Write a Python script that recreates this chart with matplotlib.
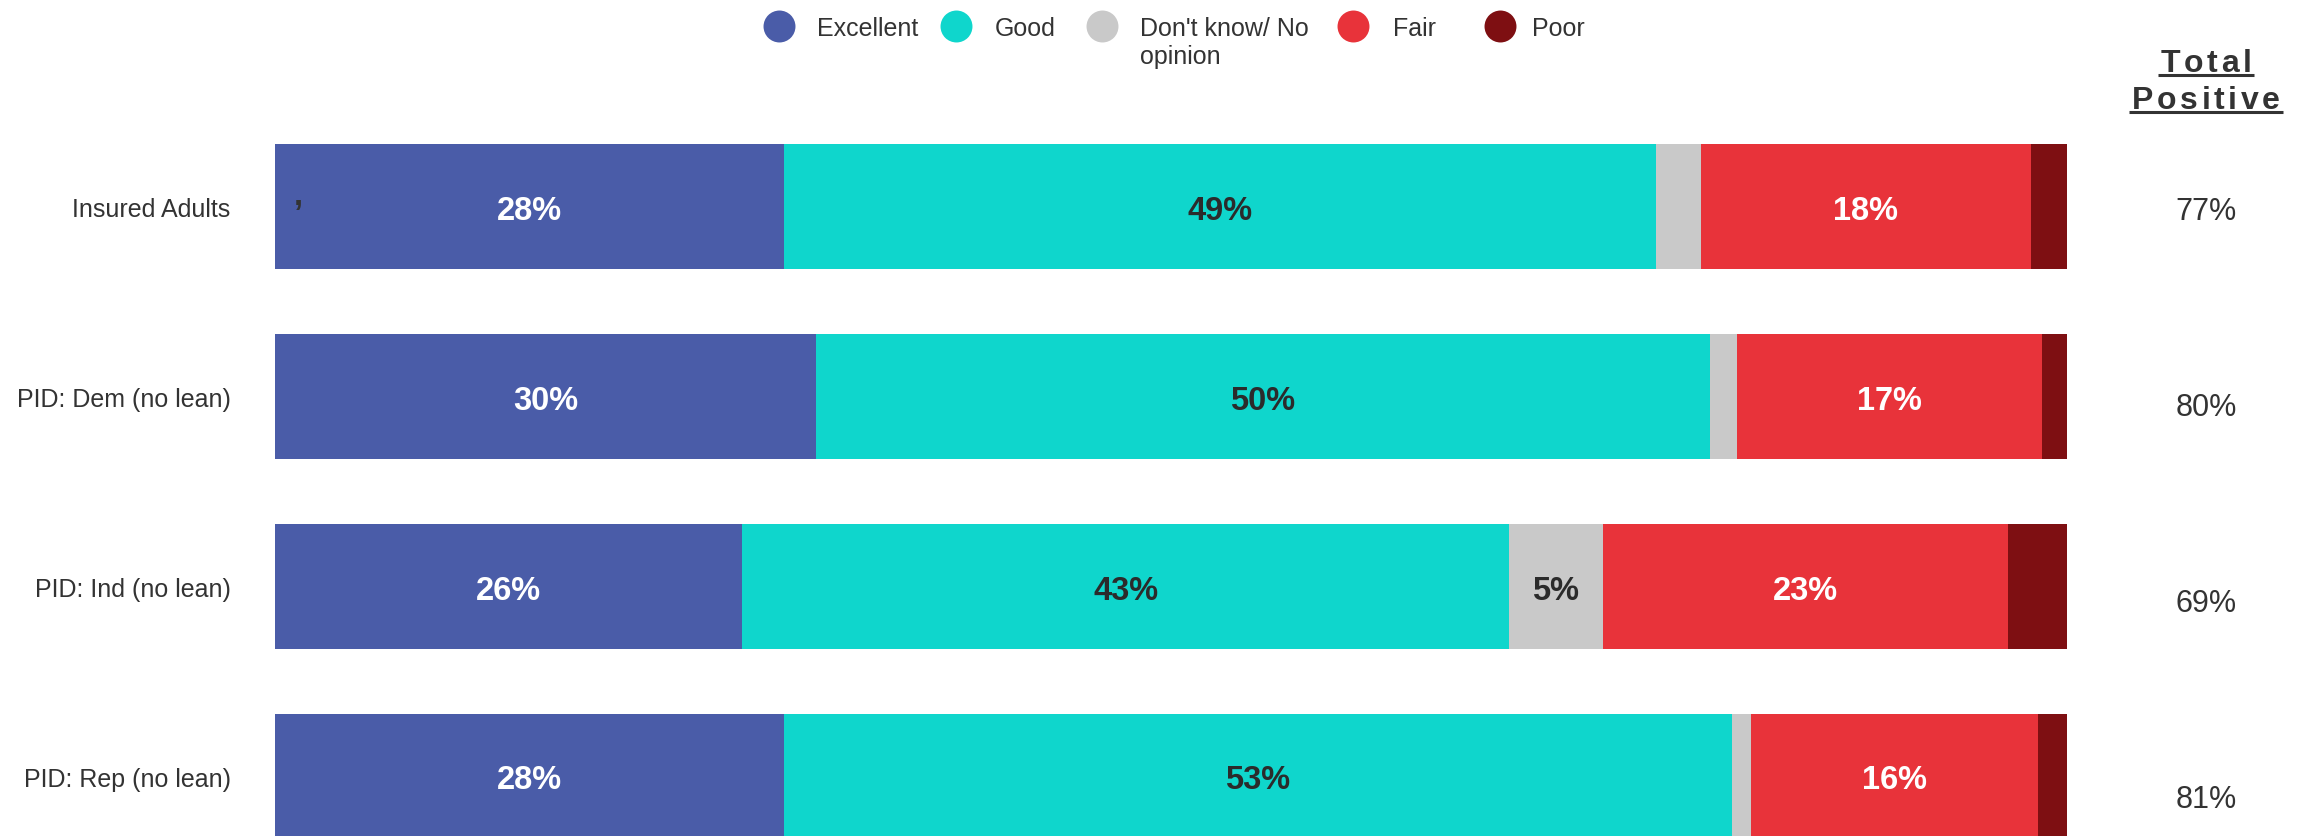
import matplotlib
matplotlib.use('Agg')
import matplotlib.pyplot as plt
import numpy as np

plt.rcParams['font.family'] = ['Liberation Sans', 'DejaVu Sans']

# data (percent of respondents)
groups = ['Insured Adults', 'PID: Dem (no lean)', 'PID: Ind (no lean)', 'PID: Rep (no lean)']
categories = ['Excellent', 'Good', "Don't know/ No\nopinion", 'Fair', 'Poor']
excellent = [28.4, 30.2, 26.1, 28.4]
good = [48.7, 49.9, 42.8, 52.9]
dont_know = [2.5, 1.5, 5.2, 1.1]
fair = [18.4, 17.0, 22.6, 16.0]
poor = [2.0, 1.4, 3.3, 1.6]
total_positive = [77, 80, 69, 81]

series = [excellent, good, dont_know, fair, poor]
colors = ['#4a5ca8', '#0fd6cc', '#c9c9c9', '#e8333a', '#7e0f12']
label_colors = ['white', '#2b2b2b', '#2b2b2b', 'white', 'white']
dark = '#333333'

W, H = 2303, 837
fig = plt.figure(figsize=(W / 100, H / 100), dpi=100)

# main stacked bars
ax = fig.add_axes([274.7 / W, 0, 1792 / W, 1])
ax.patch.set_visible(False)
y = np.arange(len(groups))
left = np.zeros(len(groups))
for vals, col, lc in zip(series, colors, label_colors):
    vals = np.array(vals)
    ax.barh(y, vals, left=left, height=0.658, color=col, linewidth=0)
    for yi, l, v in zip(y, left, vals):
        if v >= 4.5:
            ax.text(l + v / 2, yi, f'{round(v)}%', ha='center', va='center_baseline',
                    fontsize=23.5, fontweight='bold', color=lc)
    left += vals

# stray mark present in the original
ax.text(1.3, -0.013, ',', ha='center', va='baseline', fontsize=23.5,
        fontweight='bold', color=dark)

ax.set_xlim(0, 100)
ax.set_ylim(3.314, -1.095)
ax.set_xticks([])
ax.set_yticks(y, groups)
ax.tick_params(axis='y', length=0, pad=31.7, labelsize=18, labelcolor=dark)
for s in ax.spines.values():
    s.set_visible(False)

# total positive column
ax2 = fig.add_axes([2116 / W, 0, 180 / W, 1])
ax2.set_xlim(0, 1)
ax2.set_ylim(3.208, -1.065)
ax2.axis('off')
for i, t in enumerate(total_positive):
    ax2.text(0.5, i, f'{t}%', ha='center', va='center_baseline', fontsize=22, color=dark)

# overlay in pixel units for legend and header
ov = fig.add_axes([0, 0, 1, 1])
ov.set_xlim(0, W)
ov.set_ylim(H, 0)
ov.axis('off')

leg_marker_x = [778.6, 956.3, 1101.8, 1353, 1499.8]
leg_text_x = [816.8, 994.5, 1140, 1392.6, 1532]
for mx, tx, col, lab in zip(leg_marker_x, leg_text_x, colors, categories):
    ov.plot([mx], [26.5], 'o', markersize=23, color=col, markeredgewidth=0)
    if '\n' in lab:
        ov.text(tx, 17.3, lab, ha='left', va='top', fontsize=18, color=dark)
    else:
        ov.text(tx, 35.5, lab, ha='left', va='baseline', fontsize=18, color=dark)

# letter-spaced, underlined header
renderer = fig.canvas.get_renderer()
def spaced_word(word, cx, base, gap=3.6, size=23):
    widths = []
    for ch in word:
        t = ov.text(0, 0, ch, fontsize=size, fontweight='bold')
        widths.append(t.get_window_extent(renderer).width)
        t.remove()
    total = sum(widths) + gap * (len(word) - 1)
    x = cx - total / 2
    for ch, w in zip(word, widths):
        ov.text(x, base, ch, ha='left', va='baseline', fontsize=size,
                fontweight='bold', color=dark)
        x += w + gap
    ov.plot([cx - total / 2 - 3, cx + total / 2 + 3], [base + 4, base + 4],
            color=dark, linewidth=2.2, solid_capstyle='butt')

spaced_word('Total', 2206, 71.5)
spaced_word('Positive', 2206, 108.5)

fig.savefig('out.png', dpi=100)
